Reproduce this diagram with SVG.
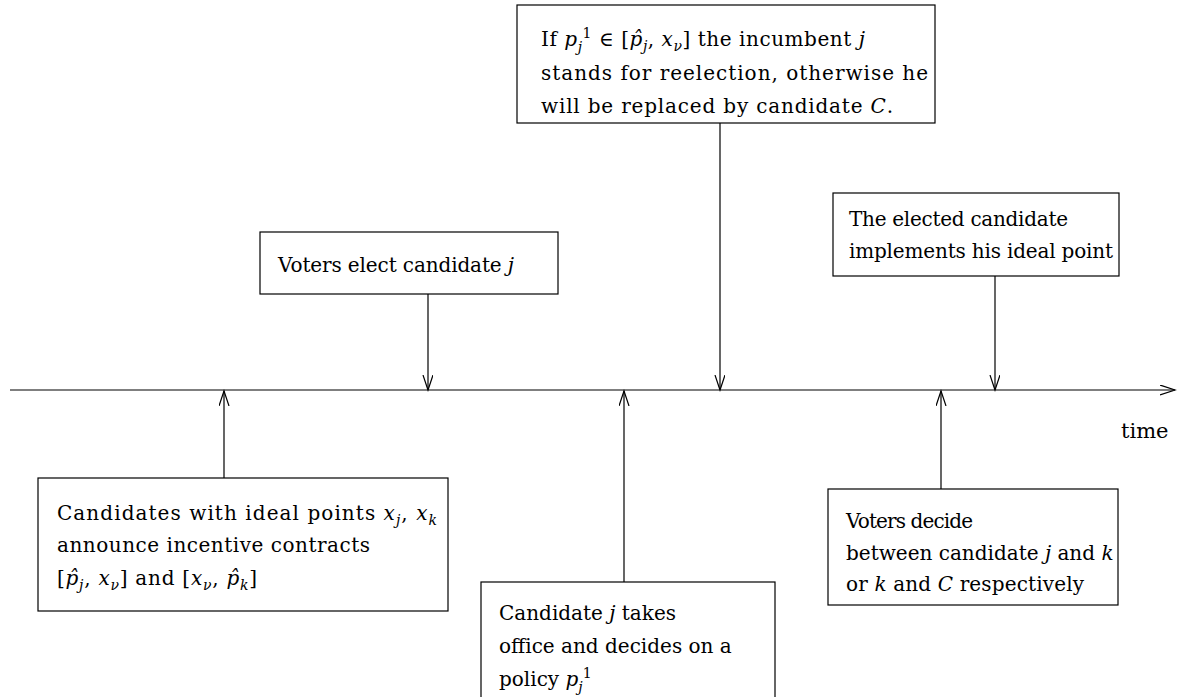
<svg xmlns="http://www.w3.org/2000/svg" width="1183" height="697" viewBox="0 0 1183 697">
<defs>
<style>
.box{fill:#fff;stroke:#000;stroke-width:1.2}
.t{font-family:'DejaVu Serif','Liberation Serif',serif;font-size:20px;fill:#000}
.i{font-style:italic}
.s{font-size:14px}
.c{stroke:#000;stroke-width:1.2;fill:none}
</style>
<marker id="ah" markerWidth="20" markerHeight="12" refX="15" refY="5" orient="auto" markerUnits="userSpaceOnUse" viewBox="0 0 20 12">
<path d="M0,0 L15,5 L0,10" fill="none" stroke="#000" stroke-width="1.2"/>
</marker>
</defs>
<rect width="1183" height="697" fill="#fff"/>
<g id="connectors">
<line class="c" x1="10" y1="390" x2="1175" y2="390" marker-end="url(#ah)"/>
<line class="c" x1="428" y1="294" x2="428" y2="390" marker-end="url(#ah)"/>
<line class="c" x1="720" y1="123" x2="720" y2="390" marker-end="url(#ah)"/>
<line class="c" x1="995" y1="276" x2="995" y2="390" marker-end="url(#ah)"/>
<line class="c" x1="224" y1="478" x2="224" y2="391" marker-end="url(#ah)"/>
<line class="c" x1="624" y1="582" x2="624" y2="391" marker-end="url(#ah)"/>
<line class="c" x1="941" y1="489" x2="941" y2="391" marker-end="url(#ah)"/>
</g>
<g id="n-reelection">
<rect class="box" x="517" y="5" width="418" height="118"/>
<text class="t" x="541" y="46" textLength="324" lengthAdjust="spacing">If <tspan class="i">p</tspan><tspan class="s i" dy="6">j</tspan><tspan class="s" dy="-14">1</tspan><tspan dy="8"> ∈ [</tspan><tspan class="i">p̂</tspan><tspan class="s i" dy="5">j</tspan><tspan dy="-5">, </tspan><tspan class="i">x</tspan><tspan class="s i" dy="5">ν</tspan><tspan dy="-5">] the incumbent </tspan><tspan class="i">j</tspan></text>
<text class="t" x="541" y="80" textLength="387" lengthAdjust="spacing">stands for reelection, otherwise he</text>
<text class="t" x="541" y="113" textLength="352" lengthAdjust="spacing">will be replaced by candidate <tspan class="i">C</tspan>.</text>
</g>
<g id="n-elect">
<rect class="box" x="260" y="232" width="298" height="62"/>
<text class="t" x="278" y="272" textLength="236" lengthAdjust="spacing">Voters elect candidate <tspan class="i">j</tspan></text>
</g>
<g id="n-implements">
<rect class="box" x="833" y="193" width="286" height="83"/>
<text class="t" x="849" y="226" textLength="219" lengthAdjust="spacing">The elected candidate</text>
<text class="t" x="849" y="258" textLength="264" lengthAdjust="spacing">implements his ideal point</text>
</g>
<g id="n-contracts">
<rect class="box" x="38" y="478" width="410" height="133"/>
<text class="t" x="57" y="520" textLength="380" lengthAdjust="spacing">Candidates with ideal points <tspan class="i">x</tspan><tspan class="s i" dy="5">j</tspan><tspan dy="-5">, </tspan><tspan class="i">x</tspan><tspan class="s i" dy="5">k</tspan></text>
<text class="t" x="57" y="552" textLength="313" lengthAdjust="spacing">announce incentive contracts</text>
<text class="t" x="57" y="585" textLength="200" lengthAdjust="spacing">[<tspan class="i">p̂</tspan><tspan class="s i" dy="5">j</tspan><tspan dy="-5">, </tspan><tspan class="i">x</tspan><tspan class="s i" dy="5">ν</tspan><tspan dy="-5">] and [</tspan><tspan class="i">x</tspan><tspan class="s i" dy="5">ν</tspan><tspan dy="-5">, </tspan><tspan class="i">p̂</tspan><tspan class="s i" dy="5">k</tspan><tspan dy="-5">]</tspan></text>
</g>
<g id="n-office">
<rect class="box" x="481" y="582" width="294" height="130"/>
<text class="t" x="499" y="620">Candidate <tspan class="i">j</tspan> takes</text>
<text class="t" x="499" y="653">office and decides on a</text>
<text class="t" x="499" y="686">policy <tspan class="i">p</tspan><tspan class="s i" dy="6">j</tspan><tspan class="s" dy="-14">1</tspan></text>
</g>
<g id="n-decide">
<rect class="box" x="828" y="489" width="290" height="116"/>
<text class="t" x="846" y="528" textLength="127" lengthAdjust="spacing">Voters decide</text>
<text class="t" x="846" y="560">between candidate <tspan class="i">j</tspan> and <tspan class="i">k</tspan></text>
<text class="t" x="846" y="591" textLength="238" lengthAdjust="spacing">or <tspan class="i">k</tspan> and <tspan class="i">C</tspan> respectively</text>
</g>
<g id="l-time">
<text class="t" x="1121" y="438" style="font-size:21px">time</text>
</g>
</svg>
